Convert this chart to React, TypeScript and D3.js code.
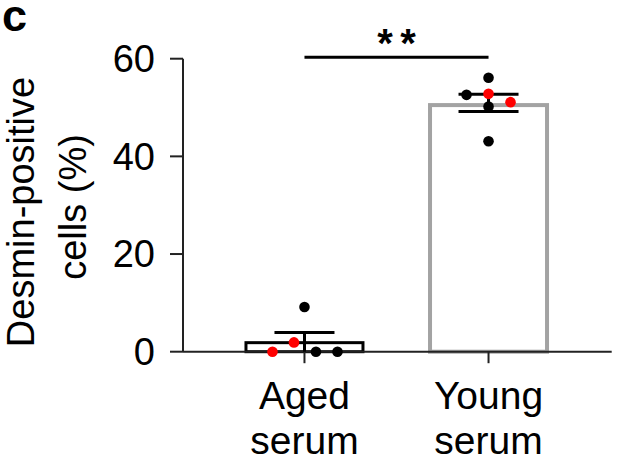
import React from "react";
import * as d3 from "d3";

const groups = ["Aged serum", "Young serum"];
const groupLines = [["Aged", "serum"], ["Young", "serum"]];
const means = [1.85, 50.5];
const semUpper = [3.95, 52.7];
const semLower = [0, 49.2];
const barColors = ["#000000", "#a3a3a3"];

const agedValues = [0, 1.9, 0, 0, 9.15];
const agedJitter = [-32, -10.5, 11.5, 33, 0];
const agedColors = ["red", "red", "black", "black", "black"];

const youngValues = [56.1, 52.6, 52.8, 51.1, 50.2, 43.1];
const youngJitter = [0, -22, 0, 22, 0, 0];
const youngColors = ["black", "black", "red", "red", "black", "black"];

const yTicks = [0, 20, 40, 60];
const yLabelLines = ["Desmin-positive", "cells (%)"];
const sigStars = ["*", "*"];

const FONT = "'Liberation Sans', Arial, sans-serif";

export default function App() {
  const W = 621, H = 468;
  const axisX = 183;
  const y = d3.scaleLinear().domain([0, 60]).range([351.7, 58.7]);
  const x = d3.scalePoint<string>().domain(groups).range([183, 610]).padding(0.66);
  const barW = 117;
  const points = [
    { vals: agedValues, jit: agedJitter, cols: agedColors },
    { vals: youngValues, jit: youngJitter, cols: youngColors },
  ];
  const x0 = x(groups[0])!, x1 = x(groups[1])!;
  const mid = (x0 + x1) / 2;
  return (
    <svg width={W} height={H} style={{ position: "absolute", left: 0, top: 0, background: "#fff" }} fontFamily={FONT}>
      <rect width={W} height={H} fill="#fff" />
      <text x={2} y={30.5} fontSize={45} fontWeight="bold" fill="#000">c</text>
      {/* bars */}
      {groups.map((g, i) => (
        <rect key={g} x={x(g)! - barW / 2} y={y(means[i])} width={barW} height={y(0) - y(means[i])}
          fill="#fff" stroke={barColors[i]} strokeWidth={i === 0 ? 3 : 4} />
      ))}
      {/* axes */}
      <line x1={axisX} x2={axisX} y1={y(60)} y2={y(0)} stroke="#222" strokeWidth={2} />
      <line x1={axisX} x2={611.7} y1={y(0)} y2={y(0)} stroke="#222" strokeWidth={2} />
      {yTicks.map(t => (
        <g key={t}>
          <line x1={170} x2={axisX} y1={y(t)} y2={y(t)} stroke="#222" strokeWidth={2} />
          <text x={155} y={y(t)} dy="0.35em" textAnchor="end" fontSize={38} fill="#000">{t}</text>
        </g>
      ))}
      {groups.map((g, i) => (
        <g key={g}>
          <line x1={x(g)!} x2={x(g)!} y1={y(0)} y2={y(0) + 11.5} stroke="#222" strokeWidth={2} />
          {groupLines[i].map((l, j) => (
            <text key={j} x={x(g)!} y={408.5 + j * 45} textAnchor="middle" fontSize={39} fill="#000">{l}</text>
          ))}
        </g>
      ))}
      {/* y label */}
      <text transform={`translate(34,212) rotate(-90)`} textAnchor="middle" fontSize={38} fill="#000">{yLabelLines[0]}</text>
      <text transform={`translate(86,207) rotate(-90)`} textAnchor="middle" fontSize={38} fill="#000">{yLabelLines[1]}</text>
      {/* error bars */}
      {groups.map((g, i) => {
        const cx = x(g)!;
        return (
          <g key={g} stroke="#000" strokeWidth={3}>
            <line x1={cx} x2={cx} y1={y(semUpper[i])} y2={y(semLower[i])} />
            <line x1={cx - 30} x2={cx + 30} y1={y(semUpper[i])} y2={y(semUpper[i])} />
            {semLower[i] > 0 && <line x1={cx - 30} x2={cx + 30} y1={y(semLower[i])} y2={y(semLower[i])} />}
          </g>
        );
      })}
      {/* points */}
      {points.map((p, i) => p.vals.map((v, k) => (
        <circle key={`${i}-${k}`} cx={x(groups[i])! + p.jit[k]} cy={y(v)} r={5.3}
          fill={p.cols[k] === "red" ? "#ff0000" : "#000"} />
      )))}
      {/* significance */}
      <line x1={x0} x2={x1} y1={57.3} y2={57.3} stroke="#000" strokeWidth={3} />
      {sigStars.map((s, k) => (
        <text key={k} x={mid + (k === 0 ? -11.5 : 11.5)} y={57} textAnchor="middle" fontSize={40} fontWeight="bold" fill="#000">{s}</text>
      ))}
    </svg>
  );
}
